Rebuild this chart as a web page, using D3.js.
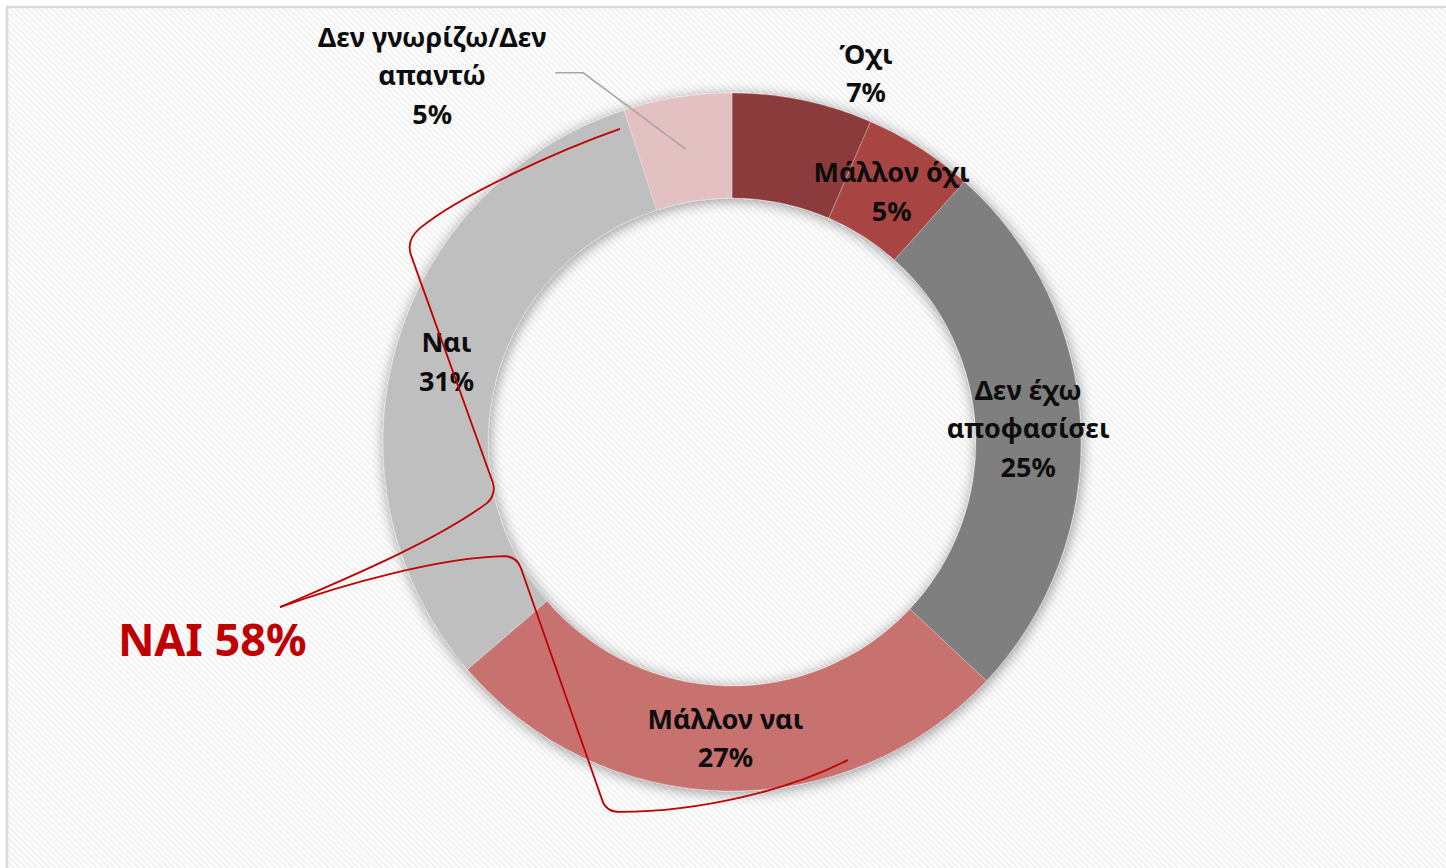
<!DOCTYPE html>
<html>
<head>
<meta charset="utf-8">
<script src="https://cdn.jsdelivr.net/npm/d3@7"></script>
<style>
  html, body { margin: 0; padding: 0; background: #fff; }
  svg { display: block; }
  .label { font-family: "Noto Sans", "DejaVu Sans", sans-serif; font-weight: 700; fill: #0d0d0d; }
  .callout { font-family: "Noto Sans", "DejaVu Sans", sans-serif; font-weight: 700; fill: #c00000; }
</style>
</head>
<body>
<div id="chart"></div>
<script>
const categories = ["Όχι", "Μάλλον όχι", "Δεν έχω αποφασίσει", "Μάλλον ναι", "Ναι", "Δεν γνωρίζω/Δεν απαντώ"];
const values = [6.5, 5.1, 25.4, 26.7, 31.3, 5.0];
const labelLines = [["Όχι"], ["Μάλλον όχι"], ["Δεν έχω", "αποφασίσει"], ["Μάλλον ναι"], ["Ναι"], ["Δεν γνωρίζω/Δεν", "απαντώ"]];
const colors = ["#8b3a3a", "#a84543", "#7f7f7f", "#c87270", "#bfbfbf", "#e3c1c2"];
const yesGroup = ["Μάλλον ναι", "Ναι"];
const yesTitle = "ΝΑΙ";

const data = categories.map((c, i) => ({ name: c, value: values[i], lines: labelLines[i], color: colors[i] }));

const width = 1446, height = 868;
const cx = 732, cy = 442, outerR = 349, innerR = 244;
const fontSize = 27, lineH = 38.5;

const svg = d3.select("#chart").append("svg")
  .attr("width", width)
  .attr("height", height);

const defs = svg.append("defs");

// striped background
const pat = defs.append("pattern")
  .attr("id", "stripes")
  .attr("patternUnits", "userSpaceOnUse")
  .attr("width", 4.2)
  .attr("height", 4.2)
  .attr("patternTransform", "rotate(-45)");
pat.append("rect").attr("width", 4.2).attr("height", 4.2).attr("fill", "#ffffff");
pat.append("rect").attr("width", 2).attr("height", 4.2).attr("fill", "#f1f1f1");

// soft shadow under the ring
const shadow = defs.append("filter")
  .attr("id", "shadow")
  .attr("x", "-20%").attr("y", "-20%")
  .attr("width", "140%").attr("height", "140%");
shadow.append("feGaussianBlur").attr("in", "SourceAlpha").attr("stdDeviation", 7).attr("result", "blur");
shadow.append("feOffset").attr("dx", 1).attr("dy", 2).attr("result", "off");
shadow.append("feComponentTransfer").append("feFuncA").attr("type", "linear").attr("slope", 0.42);
const merge = shadow.append("feMerge");
merge.append("feMergeNode");
merge.append("feMergeNode").attr("in", "SourceGraphic");

svg.append("rect")
  .attr("x", 7).attr("y", 7)
  .attr("width", width + 20).attr("height", height + 20)
  .attr("fill", "url(#stripes)")
  .attr("stroke", "#d9d9d9")
  .attr("stroke-width", 2.5);

const g = svg.append("g").attr("transform", `translate(${cx},${cy})`);

const pie = d3.pie().sort(null).value((d) => d.value);
const arcs = pie(data);

const arc = d3.arc().innerRadius(innerR).outerRadius(outerR);
const midR = (innerR + outerR) / 2;

g.append("g")
  .attr("filter", "url(#shadow)")
  .selectAll("path")
  .data(arcs)
  .enter()
  .append("path")
  .attr("d", arc)
  .attr("fill", (d) => d.data.color)
  .attr("stroke", "rgba(255,255,255,0.35)")
  .attr("stroke-width", 0.75);

// polar helper, angle in degrees clockwise from 12 o'clock
const polar = (deg, r) => {
  const a = (deg * Math.PI) / 180;
  return [r * Math.sin(a), -r * Math.cos(a)];
};

// labels that were moved outside the ring
const outside = {
  "Όχι": { angle: 20, r: outerR * 1.123 },
  "Δεν γνωρίζω/Δεν απαντώ": { angle: 320.7, r: outerR * 1.356, leader: true }
};

arcs.forEach((d) => {
  const mid = ((d.startAngle + d.endAngle) / 2) * 180 / Math.PI;
  const o = outside[d.data.name];
  const pos = o ? polar(o.angle, o.r) : polar(mid, midR);
  const lines = d.data.lines.concat([`${Math.round(d.data.value)}%`]);

  if (o && o.leader) {
    const end = polar(mid, midR);
    const elbow = [pos[0] + 151, pos[1] - 3];
    g.append("polyline")
      .attr("points", [[pos[0] + 123, elbow[1]], elbow, end].map((p) => p.join(",")).join(" "))
      .attr("fill", "none")
      .attr("stroke", "#a6a6a6")
      .attr("stroke-width", 1.5);
  }

  const t = g.append("text")
    .attr("class", "label")
    .attr("text-anchor", "middle")
    .attr("font-size", fontSize);
  lines.forEach((ln, i) => {
    t.append("tspan")
      .attr("x", pos[0])
      .attr("y", pos[1] + (i - (lines.length - 1) / 2) * lineH)
      .attr("dy", "0.35em")
      .text(ln);
  });
});

// red bracket round the "yes" answers
const at = (u, v) => `${(u * outerR).toFixed(1)},${(v * outerR).toFixed(1)}`;
const brace1 = `M${at(-0.321, -0.897)} C${at(-0.493, -0.837)} ${at(-0.779, -0.708)} ${at(-0.894, -0.613)}`
  + ` Q${at(-0.934, -0.579)} ${at(-0.920, -0.536)} L${at(-0.685, 0.117)}`
  + ` Q${at(-0.676, 0.152)} ${at(-0.702, 0.175)} C${at(-0.865, 0.295)} ${at(-1.152, 0.410)} ${at(-1.295, 0.473)}`;
const brace2 = `M${at(-1.295, 0.473)} C${at(-1.123, 0.410)} ${at(-0.837, 0.330)} ${at(-0.650, 0.327)}`
  + ` Q${at(-0.616, 0.330)} ${at(-0.605, 0.361)} L${at(-0.372, 1.026)}`
  + ` Q${at(-0.361, 1.060)} ${at(-0.321, 1.060)} C${at(-0.092, 1.060)} ${at(0.166, 0.997)} ${at(0.332, 0.911)}`;

g.selectAll(".brace")
  .data([brace1, brace2])
  .enter()
  .append("path")
  .attr("class", "brace")
  .attr("d", (d) => d)
  .attr("fill", "none")
  .attr("stroke", "#c00000")
  .attr("stroke-width", 1.8);

const yesTotal = Math.round(d3.sum(data.filter((d) => yesGroup.includes(d.name)), (d) => d.value));

svg.append("text")
  .attr("class", "callout")
  .attr("x", 118)
  .attr("y", 656)
  .attr("font-size", 45)
  .text(`${yesTitle} ${yesTotal}%`);
</script>
</body>
</html>
